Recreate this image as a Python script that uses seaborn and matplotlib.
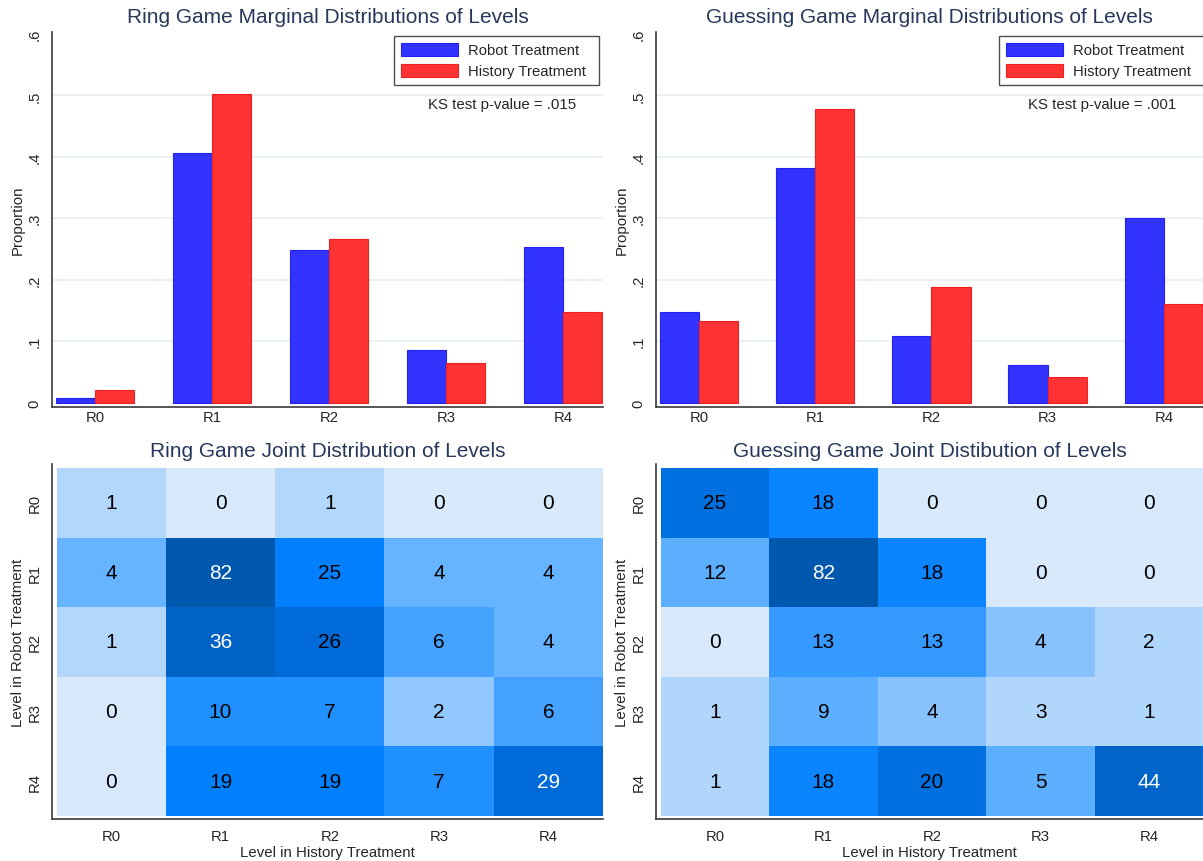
import numpy as np
import pandas as pd
import seaborn as sns
import matplotlib.pyplot as plt
from matplotlib.colors import ListedColormap, BoundaryNorm
from matplotlib.patches import Patch

# data
levels = ["R0", "R1", "R2", "R3", "R4"]
treatments = ["Robot Treatment", "History Treatment"]

ring_robot = [0.007, 0.406, 0.249, 0.085, 0.253]
ring_history = [0.020, 0.502, 0.266, 0.065, 0.147]
guess_robot = [0.147, 0.382, 0.109, 0.061, 0.300]
guess_history = [0.133, 0.478, 0.188, 0.041, 0.160]

ks_ring = "KS test p-value = .015"
ks_guess = "KS test p-value = .001"

# joint counts: rows = level in robot treatment, cols = level in history treatment
ring_joint = [
    [1, 0, 1, 0, 0],
    [4, 82, 25, 4, 4],
    [1, 36, 26, 6, 4],
    [0, 10, 7, 2, 6],
    [0, 19, 19, 7, 29],
]
guess_joint = [
    [25, 18, 0, 0, 0],
    [12, 82, 18, 0, 0],
    [0, 13, 13, 4, 2],
    [1, 9, 4, 3, 1],
    [1, 18, 20, 5, 44],
]

# binned colour scales of the two heat plots
ring_bins = [0, 1, 2, 3, 5, 7, 11, 26, 30, 37, 83]
ring_colors = ["#d9e9fc", "#b3d7fb", "#90c8ff", "#66b3ff", "#45a2ff",
               "#2090ff", "#0080ff", "#006ad8", "#0062c4", "#0058ae"]
guess_bins = [0, 1, 4, 5, 13, 14, 19, 26, 45, 83]
guess_colors = ["#d9e9fc", "#b0d6fb", "#88c2fc", "#5caefe", "#3599ff",
                "#0a84ff", "#0070e0", "#0064c8", "#0058ae"]

ytick_vals = [0, 0.1, 0.2, 0.3, 0.4, 0.5, 0.6]
ytick_labels = ["0", ".1", ".2", ".3", ".4", ".5", ".6"]

bar_palette = {"Robot Treatment": "#3333ff", "History Treatment": "#ff3333"}
bar_edges = {"Robot Treatment": "#2222f0", "History Treatment": "#f02020"}
title_color = "#27385c"
spine_color = "#3a3a3a"

sns.set_style("white")
plt.rcParams["font.family"] = ["Liberation Sans", "DejaVu Sans"]

W, H = 1203, 862
fig = plt.figure(figsize=(W / 100, H / 100), dpi=100)


def box(x0, x1, ytop, ybot):
    return [x0 / W, 1 - ybot / H, (x1 - x0) / W, (ybot - ytop) / H]


def style_spines(ax):
    for s in ["top", "right"]:
        ax.spines[s].set_visible(False)
    for s in ["left", "bottom"]:
        ax.spines[s].set_visible(True)
        ax.spines[s].set_color(spine_color)
        ax.spines[s].set_linewidth(1.2)


def bar_panel(ax, robot, history, title, ks, xlim, leg_box):
    df = pd.DataFrame({
        "level": levels * 2,
        "prop": robot + history,
        "treatment": [treatments[0]] * 5 + [treatments[1]] * 5,
    })
    sns.barplot(data=df, x="level", y="prop", hue="treatment", hue_order=treatments,
                palette=bar_palette, saturation=1, width=0.675, legend=False, ax=ax)
    for cont, t in zip(ax.containers, treatments):
        for p in cont:
            p.set_edgecolor(bar_edges[t])
            p.set_linewidth(0.8)
    ax.set_xlim(*xlim)
    ax.set_ylim(-0.007, 0.603)
    ax.set_yticks(ytick_vals)
    ax.set_yticklabels(ytick_labels, rotation=90, va="center")
    ax.tick_params(axis="y", length=6, width=1, color=spine_color, pad=1.5, labelsize=10.7)
    ax.tick_params(axis="x", length=0, pad=2.5, labelsize=10.7)
    ax.yaxis.grid(True, color="#e4edf0", lw=1.1)
    ax.get_ygridlines()[-1].set_visible(False)
    ax.get_ygridlines()[0].set_visible(False)
    ax.set_axisbelow(True)
    ax.set_xlabel("")
    ax.set_ylabel("Proportion", fontsize=10.8, labelpad=2)
    style_spines(ax)
    ax.set_title(title, fontsize=15, color=title_color, y=1.04, va="center", pad=0)
    handles = [Patch(facecolor=bar_palette[t], edgecolor=bar_edges[t], lw=0.8) for t in treatments]
    x0, x1, ytop, ybot = leg_box
    leg = ax.legend(handles, treatments, loc="upper left", mode="expand",
                    bbox_to_anchor=(x0 / W, 1 - ybot / H, (x1 - x0) / W, (ybot - ytop) / H),
                    bbox_transform=fig.transFigure, fontsize=10.7, frameon=True,
                    fancybox=False, borderpad=0.45, labelspacing=0.42,
                    handlelength=3.85, handleheight=1.0, handletextpad=0.65,
                    borderaxespad=0)
    leg.get_frame().set_edgecolor("#222222")
    leg.get_frame().set_linewidth(1.0)
    ax.text(0.952, 0.808, ks, transform=ax.transAxes, ha="right", va="center", fontsize=10.8)


def heat_panel(ax, counts, bins, colors, title, xmax):
    cmap = ListedColormap(colors)
    norm = BoundaryNorm(bins, len(colors))
    sns.heatmap(np.array(counts), ax=ax, cmap=cmap, norm=norm, cbar=False,
                annot=True, fmt="d", annot_kws={"fontsize": 15, "color": "black"},
                xticklabels=levels, yticklabels=levels, linewidths=0)
    for t in ax.texts:
        if int(t.get_text()) >= 29:
            t.set_color("white")
    ax.set_xlim(-0.042, xmax)
    ax.set_ylim(5.043, -0.057)
    ax.set_yticklabels(levels, rotation=90, va="center")
    ax.set_xticklabels(levels, rotation=0)
    ax.tick_params(axis="both", length=6, width=1, color=spine_color, labelsize=10.7)
    ax.tick_params(axis="y", pad=1.5)
    ax.tick_params(axis="x", pad=1.0)
    ax.set_xlabel("Level in History Treatment", fontsize=10.8, labelpad=1.5)
    ax.set_ylabel("Level in Robot Treatment", fontsize=10.8, labelpad=2)
    style_spines(ax)
    ax.set_title(title, fontsize=15, color=title_color, y=1.037, va="center", pad=0)


ax1 = fig.add_axes(box(52, 603, 33, 408))
ax2 = fig.add_axes(box(656, 1203, 33, 408))
ax3 = fig.add_axes(box(52, 603, 465, 820))
ax4 = fig.add_axes(box(656, 1203, 465, 820))

bar_panel(ax1, ring_robot, ring_history, "Ring Game Marginal Distributions of Levels",
          ks_ring, (-0.3675, 4.342), (394, 599, 37, 87))
bar_panel(ax2, guess_robot, guess_history, "Guessing Game Marginal Distributions of Levels",
          ks_guess, (-0.37, 4.336), (999, 1205, 37, 87))
heat_panel(ax3, ring_joint, ring_bins, ring_colors,
           "Ring Game Joint Distribution of Levels", 5.0)
heat_panel(ax4, guess_joint, guess_bins, guess_colors,
           "Guessing Game Joint Distibution of Levels", 4.995)

fig.savefig("out.png", dpi=100)
